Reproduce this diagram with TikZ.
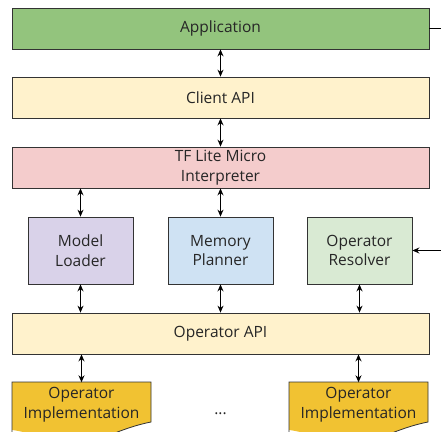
\documentclass[tikz,border=0pt]{standalone}
\usepackage{fontspec}
\setmainfont{Open Sans}
\usetikzlibrary{arrows.meta}

\definecolor{appGreen}{HTML}{93C47D}
\definecolor{apiYellow}{HTML}{FFF2CC}
\definecolor{interpRed}{HTML}{F4CCCC}
\definecolor{loaderPurple}{HTML}{D9D2E9}
\definecolor{plannerBlue}{HTML}{CFE2F3}
\definecolor{resolverGreen}{HTML}{D9EAD3}
\definecolor{implGold}{HTML}{F1C232}

\tikzstyle{tS}=[inner sep = 0pt, align=center, text=black!85, font=\fontsize{15.5}{19.5}\selectfont]
\tikzstyle{bS}=[tS, draw=black!80, line width=0.8pt]
\tikzstyle{wS}=[bS, minimum width = 417pt, minimum height = 41pt]
\tikzstyle{sS}=[bS, minimum width = 105pt, minimum height = 67pt]
\tikzstyle{iS}=[tS, minimum width = 139pt, minimum height = 44pt]
\tikzstyle{aS}=[line width=1.1pt, {Stealth[length=7pt,width=6pt]}-{Stealth[length=7pt,width=6pt]}]
\tikzstyle{inS}=[line width=1.1pt, -{Stealth[length=7pt,width=6pt]}]

\begin{document}
\begin{tikzpicture}[x=1pt,y=-1pt]
    \useasboundingbox (0,0) rectangle (441,431);
    \clip (0,0) rectangle (441,431);

    \draw (220.5,28.5) node[wS,fill=appGreen] (app) {Application};
    \draw (220.5,97.5) node[wS,fill=apiYellow] (client) {Client API};
    \draw (220.5,167.5) node[wS,fill=interpRed] (interp) {TF Lite Micro\\Interpreter};
    \draw (80.5,250.5) node[sS,fill=loaderPurple] (loader) {Model\\Loader};
    \draw (220.5,250.5) node[sS,fill=plannerBlue] (planner) {Memory\\Planner};
    \draw (359.5,250.5) node[sS,fill=resolverGreen] (resolver) {Operator\\Resolver};
    \draw (220.5,333.5) node[wS,fill=apiYellow] (opapi) {Operator API};

    % operator implementations (document shape, cut at the bottom)
    \fill[implGold] (12,382) -- (151,382) -- (151,422) .. controls (120,428) and (100,442) .. (81,442) .. controls (50,442) and (30,432) .. (12,430) -- cycle;
    \draw[draw=black!80, line width=0.8pt] (12,440) -- (12,382) -- (151,382) -- (151,422) .. controls (120,428) and (100,442) .. (81,442);
    \fill[implGold] (289,382) -- (428,382) -- (428,422) .. controls (397,428) and (377,442) .. (358,442) .. controls (327,442) and (307,432) .. (289,430) -- cycle;
    \draw[draw=black!80, line width=0.8pt] (289,440) -- (289,382) -- (428,382) -- (428,422) .. controls (397,428) and (377,442) .. (358,442);
    \draw (81.5,404.5) node[iS] (impl1) {Operator\\Implementation};
    \draw (358.5,404.5) node[iS] (impl2) {Operator\\Implementation};
    \draw (220.5,414) node[tS] (dots) {...};

    \coordinate (outR) at (470,28.5);

    \path
        (app) edge[aS] (client)
        (client) edge[aS] (interp)
        (loader.north |- interp.south) edge[aS] (loader)
        (planner.north |- interp.south) edge[aS] (planner)
        (loader) edge[aS] (loader.south |- opapi.north)
        (planner) edge[aS] (planner.south |- opapi.north)
        (resolver) edge[aS] (resolver.south |- opapi.north)
        (impl1.north |- opapi.south) edge[aS] (impl1.north)
        (impl2.north |- opapi.south) edge[aS] (impl2.north)
    ;
    \draw[line width=1.1pt] (app.east) -- (outR);
    \draw[inS] (outR) |- (resolver.east);
\end{tikzpicture}
\end{document}
